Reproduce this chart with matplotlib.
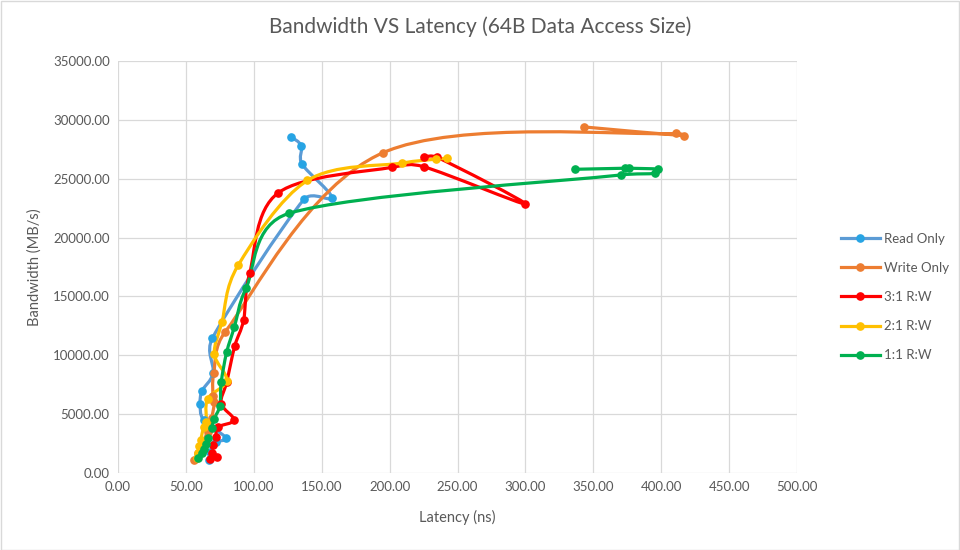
import numpy as np
import matplotlib
matplotlib.use("Agg")
import matplotlib.pyplot as plt
from matplotlib.path import Path
from matplotlib.patches import PathPatch, Rectangle
from matplotlib.lines import Line2D
from matplotlib.ticker import MultipleLocator, FormatStrFormatter

plt.rcParams["font.family"] = ["Lato", "DejaVu Sans"]

# latency (ns) / bandwidth (MB/s), in plotted order
read_lat = [67, 68, 72, 79.3, 63, 60.5, 62, 70, 69.5, 137, 157.5, 135.5, 135, 127.5]
read_bw = [1100, 1800, 2600, 3000, 4500, 5900, 7000, 8500, 11450, 23250, 23400, 26250, 27800, 28550]

write_lat = [56, 59, 62, 66, 69, 71, 70, 70.5, 79, 195, 411, 417, 343]
write_bw = [1100, 1700, 2500, 3500, 4700, 6000, 6500, 8500, 12000, 27200, 28850, 28650, 29400]

rw31_lat = [68, 73, 69, 70, 72, 73.5, 85.5, 76, 80, 86, 92.5, 97, 118, 202, 225, 300, 235, 225]
rw31_bw = [1200, 1400, 1700, 2400, 3100, 3900, 4500, 5900, 7700, 10800, 13000, 17000, 23800,
           25970, 26020, 22850, 26820, 26870]

rw21_lat = [58, 59, 60, 61, 63, 65, 66, 80, 71, 76.5, 88.5, 139.5, 209, 234, 242.5]
rw21_bw = [1300, 1700, 2300, 2800, 3900, 4300, 6300, 7850, 10100, 12800, 17650, 24850, 26330,
           26660, 26740]

rw11_lat = [59, 61.5, 63, 65, 66, 69, 70.5, 75, 76, 80, 85.7, 94.3, 126, 370.5, 395.5, 398, 376,
            373, 336.5]
rw11_bw = [1300, 1700, 2000, 2500, 3000, 3800, 4550, 5700, 7700, 10250, 12400, 15700, 22060,
           25320, 25460, 25800, 25890, 25890, 25800]

series = [
    ("Read Only", read_lat, read_bw, "#5B9BD5", "#27A4E4"),
    ("Write Only", write_lat, write_bw, "#ED7D31", "#ED7D31"),
    ("3:1 R:W", rw31_lat, rw31_bw, "#FF0000", "#FF0000"),
    ("2:1 R:W", rw21_lat, rw21_bw, "#FFC000", "#FFC000"),
    ("1:1 R:W", rw11_lat, rw11_bw, "#00B050", "#00B050"),
]

TEXT = "#595959"
GRID = "#D9D9D9"
XMAX, YMAX = 500, 35000
AX_W, AX_H = 679, 412  # plot area in pixels


def _cap(h, limit):
    n = np.hypot(*h)
    return h * (limit / n) if n > limit else h


def smooth_path(xs, ys, cap=0.45):
    # Excel-like smoothed line: Catmull-Rom handles, capped by the segment
    # length so short back-and-forth segments don't overshoot
    sc = np.array([AX_W / XMAX, AX_H / YMAX])
    pts = np.column_stack([xs, ys]).astype(float) * sc
    n = len(pts)
    verts = [pts[0]]
    codes = [Path.MOVETO]
    for i in range(n - 1):
        p0 = pts[i - 1] if i > 0 else pts[i]
        p1 = pts[i]
        p2 = pts[i + 1]
        p3 = pts[i + 2] if i + 2 < n else pts[i + 1]
        seg = np.hypot(*(p2 - p1))
        c1 = p1 + _cap((p2 - p0) / 6.0, cap * seg)
        c2 = p2 - _cap((p3 - p1) / 6.0, cap * seg)
        verts += [c1, c2, p2]
        codes += [Path.CURVE4] * 3
    return Path(np.array(verts) / sc, codes)


fig = plt.figure(figsize=(9.6, 5.5), dpi=100)
ax = fig.add_axes([118 / 960, 77 / 550, AX_W / 960, AX_H / 550])

handles = []
for name, xs, ys, lc, mc in series:
    patch = PathPatch(smooth_path(xs, ys), facecolor="none", edgecolor=lc, lw=2.3,
                      capstyle="round", joinstyle="round", zorder=3)
    ax.add_patch(patch)
    ax.plot(xs, ys, linestyle="none", marker="o", markersize=5.2, color=mc, zorder=4)
    handles.append(Line2D([], [], color=lc, lw=2.3, marker="o", markersize=5.2,
                          markerfacecolor=mc, markeredgecolor=mc, label=name))

ax.set_xlim(0, XMAX)
ax.set_ylim(0, YMAX)
ax.xaxis.set_major_locator(MultipleLocator(50))
ax.yaxis.set_major_locator(MultipleLocator(5000))
ax.xaxis.set_major_formatter(FormatStrFormatter("%.2f"))
ax.yaxis.set_major_formatter(FormatStrFormatter("%.2f"))
ax.grid(True, color=GRID, lw=0.9)
ax.set_axisbelow(True)
for s in ax.spines.values():
    s.set_visible(False)
ax.tick_params(length=0, labelsize=9.5, colors=TEXT, pad=6)

ax.set_xlabel("Latency (ns)", fontsize=10.5, color=TEXT, labelpad=12)
ax.set_ylabel("Bandwidth (MB/s)", fontsize=10.5, color=TEXT, labelpad=8)
fig.text(480 / 960, 1 - 27 / 550, "Bandwidth VS Latency (64B Data Access Size)",
         ha="center", va="center", fontsize=15, color=TEXT)

fig.legend(handles=handles, loc="center left", bbox_to_anchor=(836 / 960, 1 - 297 / 550),
           frameon=False, fontsize=9.5, labelcolor=TEXT, handlelength=2.9,
           labelspacing=1.3, handletextpad=0.3, borderaxespad=0)

fig.patches.append(Rectangle((0.5 / 960, 0.5 / 550), 1 - 1.5 / 960, 1 - 1.5 / 550,
                             transform=fig.transFigure, fill=False, edgecolor=GRID, lw=1))

fig.savefig("out.png", dpi=100)
